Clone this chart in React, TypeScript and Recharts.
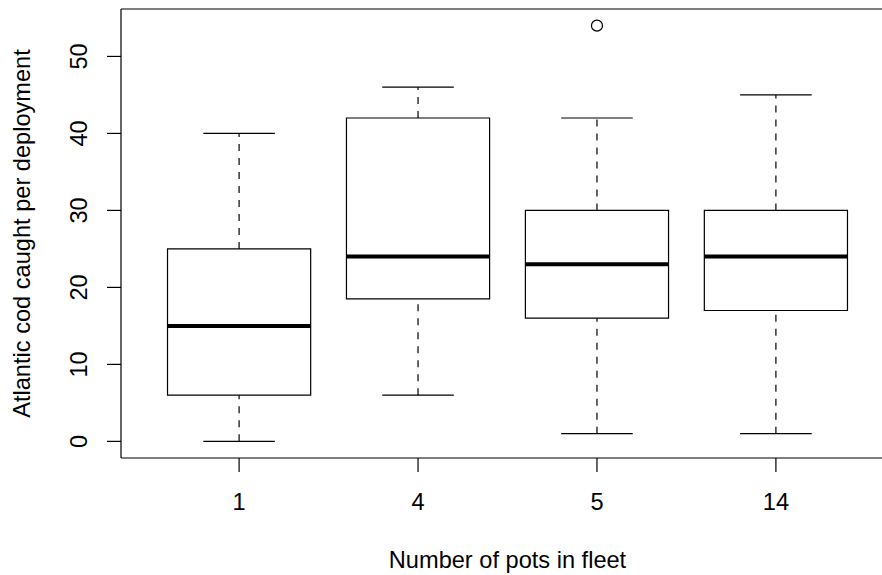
import { ComposedChart, ReferenceArea, ReferenceLine, Scatter, XAxis, YAxis, Label } from "recharts";

const fleetSizes = ["1", "4", "5", "14"];
const whiskerLow = [0, 6, 1, 1];
const lowerQuartile = [6, 18.5, 16, 17];
const medians = [15, 24, 23, 24];
const upperQuartile = [25, 42, 30, 30];
const whiskerHigh = [40, 46, 42, 45];
const outlierGroups = [3];
const outlierValues = [54];
const yTicks = [0, 10, 20, 30, 40, 50];

const X_DOMAIN: [number, number] = [0.34, 4.66];
const Y_DOMAIN: [number, number] = [-2.16, 56.16];

const FONT = '"Liberation Sans", Arial, Helvetica, sans-serif';
const FONT_SIZE = 23.6;
const BOX_HALF = 0.4;
const CAP_HALF = 0.2;

const groups = fleetSizes.map((_, i) => i + 1);
const outlierData = outlierGroups.map((g, i) => ({ group: g, value: outlierValues[i] }));

function YTick({ x, y, payload }: { x?: number; y?: number; payload?: { value: number } }) {
  const bx = (x ?? 0) - 18;
  return (
    <text
      x={bx}
      y={y}
      transform={`rotate(-90, ${bx}, ${y})`}
      textAnchor="middle"
      fontFamily={FONT}
      fontSize={FONT_SIZE}
      fill="#000"
    >
      {payload?.value}
    </text>
  );
}

function XTick({ x, y, payload }: { x?: number; y?: number; payload?: { value: number } }) {
  return (
    <text x={x} y={(y ?? 0) + 36} textAnchor="middle" fontFamily={FONT} fontSize={FONT_SIZE} fill="#000">
      {fleetSizes[(payload?.value ?? 1) - 1]}
    </text>
  );
}

function OutlierDot({ cx, cy }: { cx?: number; cy?: number }) {
  return <circle cx={cx} cy={cy} r={5.5} fill="none" stroke="#000" strokeWidth={1.2} />;
}

export default function App() {
  return (
    <div style={{ position: "absolute", left: 0, top: 0, width: 882, height: 575, overflow: "hidden", background: "#fff" }}>
      <ComposedChart width={900} height={575} margin={{ top: 9, right: 6, bottom: 0, left: 0 }} data={outlierData}>
        <XAxis
          dataKey="group"
          type="number"
          domain={X_DOMAIN}
          ticks={groups}
          allowDataOverflow
          height={117}
          axisLine={false}
          tickSize={14}
          tickLine={{ stroke: "#000", strokeWidth: 1.2 }}
          tick={<XTick />}
        >
          <Label
            content={({ viewBox }: any) => (
              <text
                x={viewBox.x + viewBox.width / 2}
                y={568}
                textAnchor="middle"
                fontFamily={FONT}
                fontSize={FONT_SIZE}
                fill="#000"
              >
                Number of pots in fleet
              </text>
            )}
          />
        </XAxis>
        <YAxis
          dataKey="value"
          type="number"
          domain={Y_DOMAIN}
          ticks={yTicks}
          allowDataOverflow
          width={121}
          axisLine={false}
          tickSize={14}
          tickLine={{ stroke: "#000", strokeWidth: 1.2 }}
          tick={<YTick />}
        >
          <Label
            content={({ viewBox }: any) => {
              const cy = viewBox.y + viewBox.height / 2;
              return (
                <text
                  x={30}
                  y={cy}
                  transform={`rotate(-90, 30, ${cy})`}
                  textAnchor="middle"
                  fontFamily={FONT}
                  fontSize={FONT_SIZE}
                  fill="#000"
                >
                  Atlantic cod caught per deployment
                </text>
              );
            }}
          />
        </YAxis>
        {/* plot frame: right side falls outside the picture */}
        <ReferenceLine y={Y_DOMAIN[1]} stroke="#000" strokeWidth={1.2} ifOverflow="visible" />
        <ReferenceLine y={Y_DOMAIN[0]} stroke="#000" strokeWidth={1.2} ifOverflow="visible" />
        <ReferenceLine x={X_DOMAIN[0]} stroke="#000" strokeWidth={1.2} ifOverflow="visible" />
        {groups.map((g, i) => (
          <ReferenceLine
            key={`wl-${g}`}
            segment={[
              { x: g, y: whiskerLow[i] },
              { x: g, y: lowerQuartile[i] },
            ]}
            stroke="#000"
            strokeWidth={1.2}
            strokeDasharray="7 7"
          />
        ))}
        {groups.map((g, i) => (
          <ReferenceLine
            key={`wh-${g}`}
            segment={[
              { x: g, y: upperQuartile[i] },
              { x: g, y: whiskerHigh[i] },
            ]}
            stroke="#000"
            strokeWidth={1.2}
            strokeDasharray="7 7"
          />
        ))}
        {groups.map((g, i) => (
          <ReferenceLine
            key={`cl-${g}`}
            segment={[
              { x: g - CAP_HALF, y: whiskerLow[i] },
              { x: g + CAP_HALF, y: whiskerLow[i] },
            ]}
            stroke="#000"
            strokeWidth={1.2}
          />
        ))}
        {groups.map((g, i) => (
          <ReferenceLine
            key={`ch-${g}`}
            segment={[
              { x: g - CAP_HALF, y: whiskerHigh[i] },
              { x: g + CAP_HALF, y: whiskerHigh[i] },
            ]}
            stroke="#000"
            strokeWidth={1.2}
          />
        ))}
        {groups.map((g, i) => (
          <ReferenceArea
            key={`box-${g}`}
            x1={g - BOX_HALF}
            x2={g + BOX_HALF}
            y1={lowerQuartile[i]}
            y2={upperQuartile[i]}
            fill="#fff"
            fillOpacity={1}
            stroke="#000"
            strokeWidth={1.2}
          />
        ))}
        {groups.map((g, i) => (
          <ReferenceLine
            key={`med-${g}`}
            segment={[
              { x: g - BOX_HALF, y: medians[i] },
              { x: g + BOX_HALF, y: medians[i] },
            ]}
            stroke="#000"
            strokeWidth={4}
          />
        ))}
        <Scatter dataKey="value" shape={<OutlierDot />} isAnimationActive={false} />
      </ComposedChart>
    </div>
  );
}
